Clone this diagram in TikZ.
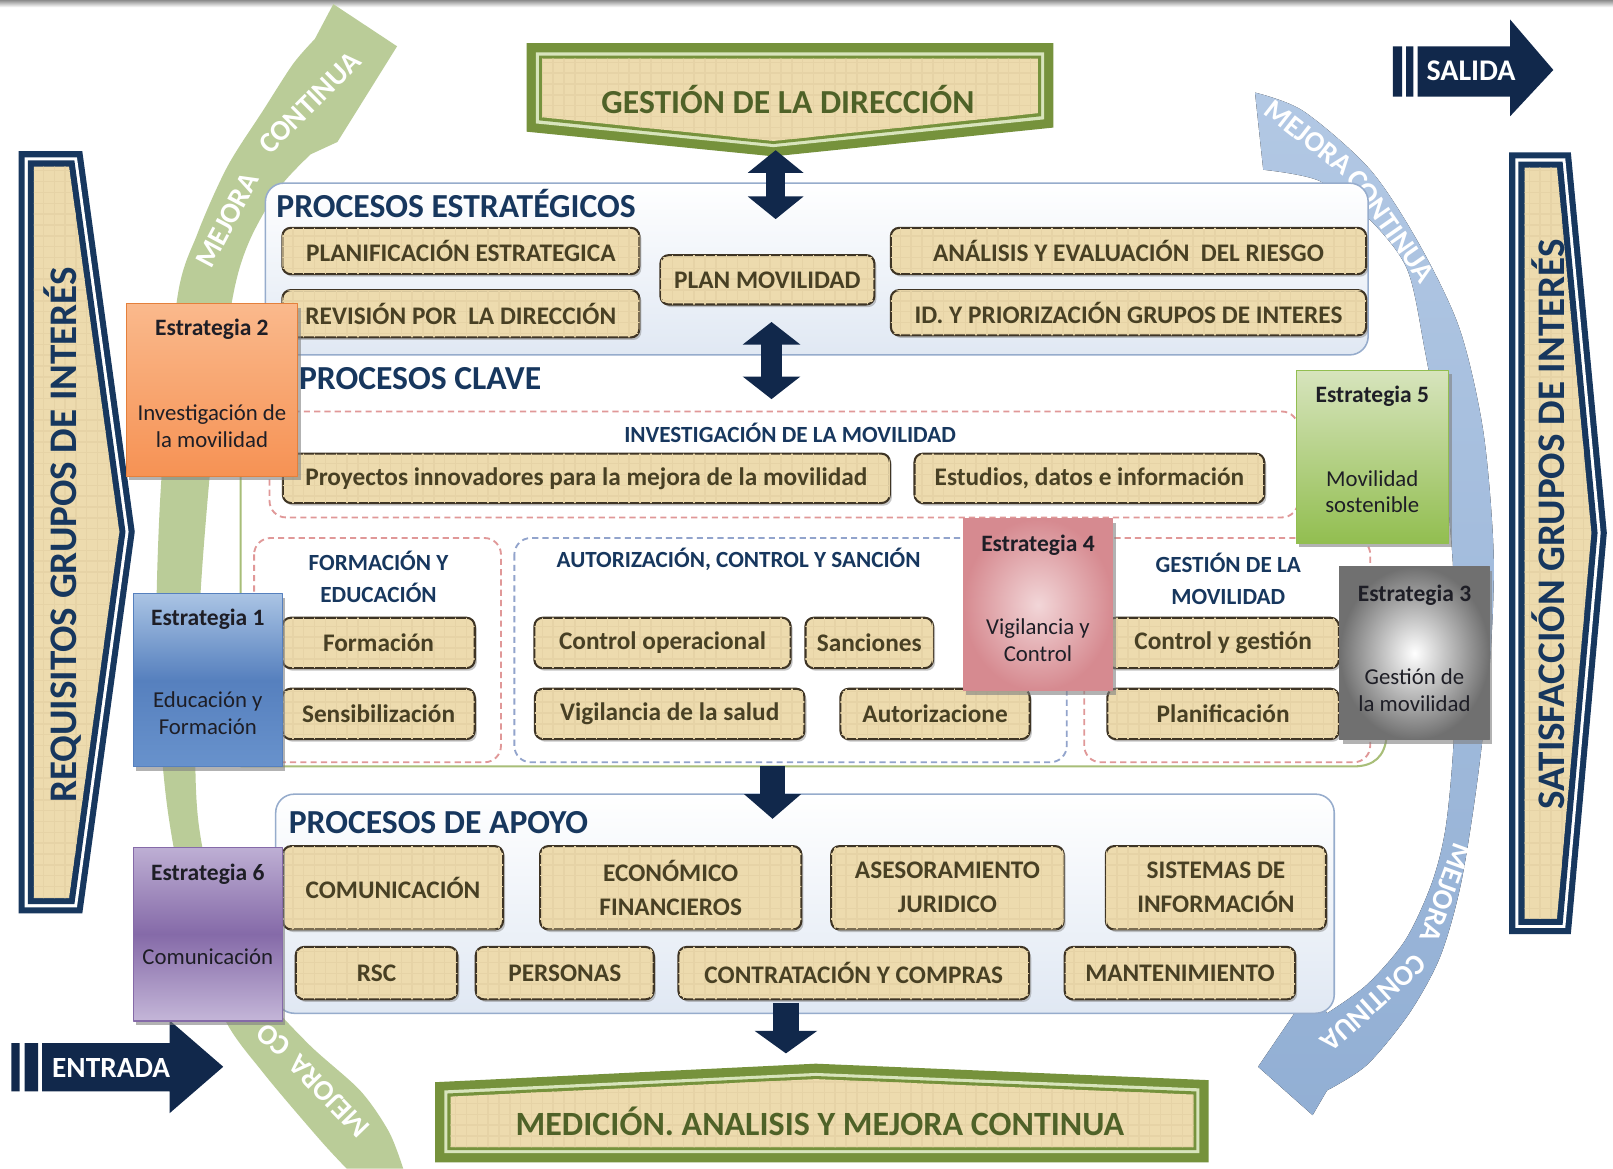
\documentclass[tikz,border=0pt]{standalone}
\usepackage{fontspec}
\setmainfont{Carlito}
\usepackage{tikz}
\usetikzlibrary{arrows.meta,positioning,shadows,patterns}
\usepackage{xcolor}

\definecolor{navyink}{RGB}{23,55,94}
\definecolor{navyarrow}{RGB}{17,40,75}
\definecolor{tanfill}{RGB}{237,219,174}
\definecolor{tangrid}{RGB}{230,211,166}
\definecolor{boxline}{RGB}{62,52,36}
\definecolor{boxink}{RGB}{72,64,36}
\definecolor{olivegreen}{RGB}{118,146,60}
\definecolor{olivelight}{RGB}{216,228,188}
\definecolor{oliveink}{RGB}{79,98,40}
\definecolor{mejoraverde}{RGB}{186,204,152}
\definecolor{mejoraazul}{RGB}{146,175,212}
\definecolor{mejoraazultop}{RGB}{178,200,228}
\definecolor{panelline}{RGB}{150,172,204}
\definecolor{panelfill}{RGB}{224,232,243}
\definecolor{keyline}{RGB}{168,190,120}
\definecolor{dashpink}{RGB}{224,152,152}
\definecolor{dashblue}{RGB}{146,164,204}
\definecolor{estink}{RGB}{30,30,38}
\definecolor{etwotop}{RGB}{250,185,140}
\definecolor{etwobot}{RGB}{246,146,84}
\definecolor{etwoline}{RGB}{228,128,60}
\definecolor{eonetop}{RGB}{170,196,228}
\definecolor{eonemid}{RGB}{86,128,190}
\definecolor{eonebot}{RGB}{104,146,204}
\definecolor{esixtop}{RGB}{190,175,212}
\definecolor{esixmid}{RGB}{133,106,168}
\definecolor{esixbot}{RGB}{196,182,216}
\definecolor{efivetop}{RGB}{215,228,189}
\definecolor{efivebot}{RGB}{146,190,80}
\definecolor{efourin}{RGB}{242,214,216}
\definecolor{efourout}{RGB}{214,138,144}
\definecolor{ethreeout}{RGB}{112,112,112}

\begin{document}
\begin{tikzpicture}[
        x = 0.1mm, y = -0.1mm, % one unit = one pixel of the sketch, y goes down
        line join = round
      ]

      \tikzset{
        proc/.style = {draw = boxline, line width = 0.2mm, rounded corners = 0.8mm,
          fill = tanfill, text = boxink, align = center, inner sep = 0pt,
          font = \fontsize{7}{9.4}\selectfont\bfseries,
          drop shadow = {shadow xshift = 0.2mm, shadow yshift = -0.25mm, opacity = 0.45},
          postaction = {pattern = grid, pattern color = tangrid}},
        estbox/.style = {line width = 0.1mm, inner sep = 0pt,
          drop shadow = {shadow xshift = 0.3mm, shadow yshift = -0.4mm, opacity = 0.6}},
        esttitle/.style = {inner sep = 0pt, text = estink,
          font = \fontsize{6.5}{7.5}\selectfont\bfseries},
        estsub/.style = {inner sep = 0pt, text = estink, align = center,
          font = \fontsize{6.3}{7.4}\selectfont},
        areatitle/.style = {anchor = west, inner sep = 0pt, text = navyink,
          font = \fontsize{9.3}{11}\selectfont\bfseries},
        regtitle/.style = {inner sep = 0pt, text = navyink, align = center,
          font = \fontsize{6.4}{8.8}\selectfont\bfseries},
        zone/.style = {rounded corners = 1.6mm, line width = 0.18mm,
          dash pattern = on 0.6mm off 0.4mm},
        panel/.style = {draw = panelline, line width = 0.15mm, rounded corners = 1.8mm,
          top color = white, bottom color = panelfill},
        blockarrow/.style = {draw = navyarrow, line width = #1},
        mejora/.style = {text = white, inner sep = 0pt,
          font = \fontsize{8}{9}\selectfont\bfseries},
        banner/.style = {text = navyink, rotate = 90, inner sep = 0pt,
          font = \fontsize{10.8}{12}\selectfont\bfseries},
        tanarea/.style = {fill = tanfill, postaction = {pattern = grid, pattern color = tangrid}}
      }

      \fill[white] (0,0) rectangle (1568,1136);
      \fill[top color = black!45, bottom color = white] (0,0) rectangle (1568,7);

      % mejora continua, left (green) and right (blue)
      \fill[mejoraverde] plot[smooth] coordinates {(337,1136) (311,1108) (256,1043) (218,990)
          (185,900) (162,780) (152,640) (156,480) (172,292) (192,227) (221,162) (256,107)
          (285,62) (306,38)}
        -- (324,4) -- (386,45) -- (328,138)
        -- plot[smooth] coordinates {(302,150) (272,182) (243,233) (227,285) (210,400)
          (196,560) (190,700) (193,800) (215,900) (250,960) (300,1015) (350,1060)
          (378,1100) (392,1136)} -- cycle;
      \node[mejora, rotate = 62] (mejora-a1) at (221,214) {MEJORA};
      \node[mejora, rotate = 45] (mejora-a2) at (301,100) {CONTINUA};
      \node[mejora, rotate = 134] (mejora-b1) at (320,1066) {MEJORA};
      \node[mejora, rotate = 140] (mejora-b2) at (266,1011) {CO};

      \fill[top color = mejoraazultop, bottom color = mejoraazul]
        plot[smooth] coordinates {(1220,90) (1267,108) (1332,165) (1380,238) (1419,320)
          (1442,420) (1452,540) (1448,650) (1436,760) (1420,860) (1400,930) (1370,985)
          (1329,1035) (1290,1060)}
        -- (1276,1084) -- (1223,1037) -- (1276,959)
        -- plot[smooth] coordinates {(1290,985) (1329,957) (1366,914) (1392,858) (1406,800)
          (1414,700) (1413,560) (1402,440) (1385,340) (1368,262) (1332,214) (1283,176)
          (1228,165)} -- cycle;
      \node[mejora, rotate = -38] (mejora-c1) at (1272,134) {MEJORA};
      \node[mejora, rotate = -55] (mejora-c2) at (1352,220) {CONTINUA};
      \node[mejora, rotate = 250] (mejora-d1) at (1405,868) {MEJORA};
      \node[mejora, rotate = 222] (mejora-d2) at (1335,975) {CONTINUA};

      % grupos de interes
      \fill[navyink] (18,147) -- (80,147) -- (131,517) -- (80,888) -- (18,888) -- cycle;
      \fill[white] (24,153) -- (74.8,153) -- (125,517) -- (74.8,882) -- (24,882) -- cycle;
      \fill[navyink] (27,156) -- (72.3,156) -- (122,517) -- (72.3,879) -- (27,879) -- cycle;
      \fill[tanarea] (33,162) -- (67.1,162) -- (116,517) -- (67.1,873) -- (33,873) -- cycle;
      \node[banner] (requisitos) at (61,520) {REQUISITOS GRUPOS DE INTERÉS};

      \fill[navyink] (1467,148) -- (1527,148) -- (1562,518) -- (1527,908) -- (1467,908) -- cycle;
      \fill[white] (1473,154) -- (1521.6,154) -- (1556,518) -- (1521.6,902) -- (1473,902) -- cycle;
      \fill[navyink] (1476,157) -- (1519,157) -- (1553,518) -- (1519,899) -- (1476,899) -- cycle;
      \fill[tanarea] (1482,163) -- (1513.5,163) -- (1547,518) -- (1513.5,893) -- (1482,893) -- cycle;
      \node[banner] (satisfaccion) at (1505,510) {SATISFACCIÓN GRUPOS DE INTERÉS};

      % entrada / salida
      \fill[navyarrow] (11,1014) rectangle (19,1061) (24,1014) rectangle (37,1061);
      \fill[navyarrow] (41,1014) -- (165,1014) -- (165,992) -- (217,1037) -- (165,1082)
        -- (165,1061) -- (41,1061) -- cycle;
      \node[text = white, font = \fontsize{8.1}{9}\selectfont\bfseries] (entrada) at (108,1038) {ENTRADA};

      \fill[navyarrow] (1354,45) rectangle (1363,94) (1367,45) rectangle (1374,94);
      \fill[navyarrow] (1378,45) -- (1468,45) -- (1468,19) -- (1510,68) -- (1468,113)
        -- (1468,94) -- (1378,94) -- cycle;
      \node[text = white, font = \fontsize{8.3}{9}\selectfont\bfseries] (salida) at (1430,69) {SALIDA};

      % gestion de la direccion
      \fill[olivegreen] (512,42) -- (1024,42) -- (1024,124) -- (752,152) -- (512,128) -- cycle;
      \fill[olivelight] (521,51) -- (1015,51) -- (1015,116) -- (752,143) -- (521,120) -- cycle;
      \fill[olivegreen] (524,54) -- (1012,54) -- (1012,113) -- (752,140) -- (524,117) -- cycle;
      \fill[tanarea] (527,57) -- (1009,57) -- (1009,110) -- (752,137) -- (527,114) -- cycle;
      \node[text = oliveink, font = \fontsize{9.3}{11}\selectfont\bfseries] (gestion) at (766,97) {GESTIÓN DE LA DIRECCIÓN};
      \coordinate (gestion-tip) at (754,146);

      % medicion
      \fill[olivegreen] (423,1052) -- (793,1034) -- (1175,1050) -- (1175,1130) -- (423,1130) -- cycle;
      \fill[olivelight] (432,1060) -- (793,1043) -- (1166,1058) -- (1166,1121) -- (432,1121) -- cycle;
      \fill[olivegreen] (435,1063) -- (793,1046) -- (1163,1061) -- (1163,1118) -- (435,1118) -- cycle;
      \fill[tanarea] (438,1066) -- (793,1049) -- (1160,1064) -- (1160,1115) -- (438,1115) -- cycle;
      \node[text = oliveink, font = \fontsize{9.4}{11}\selectfont\bfseries] (medicion) at (797,1090) {MEDICIÓN. ANALISIS Y MEJORA CONTINUA};
      \coordinate (medicion-tip) at (764,1024);

      % procesos estrategicos
      \draw[panel] (258,178) rectangle (1330,345);
      \node[areatitle] (estrategicos) at (268,198) {PROCESOS ESTRATÉGICOS};
      \coordinate (estr-top) at (754,213);
      \coordinate (estr-bot) at (750,313);

      \node[proc, minimum width = 34.7mm, minimum height = 4.5mm] (planif) at (448,244) {PLANIFICACIÓN ESTRATEGICA};
      \node[proc, minimum width = 34.7mm, minimum height = 4.6mm] (revision) at (448,305) {REVISIÓN POR~ LA DIRECCIÓN};
      \node[proc, minimum width = 20.8mm, minimum height = 4.8mm] (planmov) at (746,272) {PLAN MOVILIDAD};
      \node[proc, minimum width = 46.2mm, minimum height = 4.5mm] (riesgo) at (1097,244) {ANÁLISIS Y EVALUACIÓN~ DEL RIESGO};
      \node[proc, minimum width = 46.2mm, minimum height = 4.4mm] (grupos) at (1097,304) {ID. Y PRIORIZACIÓN GRUPOS DE INTERES};

      % procesos clave
      \draw[keyline, line width = 0.2mm] (234,347) -- (234,745) -- (1316,745)
        .. controls (1336,745) and (1346,735) .. (1348,716);
      \node[areatitle] (clave) at (290,368) {PROCESOS CLAVE};
      \coordinate (clave-top) at (750,388);
      \coordinate (clave-bot) at (751,745);

      \draw[zone, dashpink] (262,400) rectangle (1262,503);
      \draw[zone, dashpink] (247,523) rectangle (487,741);
      \draw[zone, dashblue] (500,523) rectangle (1037,741);
      \draw[zone, dashpink] (1054,523) rectangle (1332,741);

      \node[regtitle] (investigacion) at (768,421) {INVESTIGACIÓN DE LA MOVILIDAD};
      \node[regtitle] (formeduc) at (368,561) {FORMACIÓN Y\\EDUCACIÓN};
      \node[regtitle] (autorizacion) at (718,544) {AUTORIZACIÓN, CONTROL Y SANCIÓN};
      \node[regtitle] (gestmov) at (1194,563) {GESTIÓN DE LA\\MOVILIDAD};

      \node[proc, minimum width = 59mm, minimum height = 4.8mm] (proyectos) at (570,465) {Proyectos innovadores para la mejora de la movilidad};
      \node[proc, minimum width = 34mm, minimum height = 4.8mm] (estudios) at (1059,465) {Estudios, datos e información};
      \node[proc, minimum width = 18.7mm, minimum height = 4.9mm] (formacion) at (368,625) {Formación};
      \node[proc, minimum width = 18.7mm, minimum height = 4.9mm] (sensib) at (368,694) {Sensibilización};
      \node[proc, minimum width = 24.9mm, minimum height = 4.9mm] (controlop) at (644,625) {Control operacional};
      \node[proc, minimum width = 12.4mm, minimum height = 4.9mm] (sanciones) at (845,625) {Sanciones};
      \node[proc, minimum width = 26.2mm, minimum height = 4.9mm] (vigsalud) at (651,694) {Vigilancia de la salud};
      \node[proc, minimum width = 18.4mm, minimum height = 4.9mm] (autoriz) at (909,694) {Autorizacione};
      \node[proc, minimum width = 22.5mm, minimum height = 4.9mm] (controlg) at (1189,625) {Control y gestión};
      \node[proc, minimum width = 22.5mm, minimum height = 4.9mm] (planific) at (1189,694) {Planificación};

      % procesos de apoyo
      \draw[panel] (268,772) rectangle (1297,985);
      \node[areatitle] (apoyo) at (280,800) {PROCESOS DE APOYO};
      \coordinate (apoyo-top) at (751,796);
      \coordinate (apoyo-bot) at (764,975);

      \node[proc, minimum width = 21.4mm, minimum height = 8.1mm] (comunic) at (382,863) {COMUNICACIÓN};
      \node[proc, minimum width = 25.4mm, minimum height = 8.1mm] (econ) at (652,863) {ECONÓMICO\\FINANCIEROS};
      \node[proc, minimum width = 22.6mm, minimum height = 8.1mm] (asesor) at (921,863) {ASESORAMIENTO\\JURIDICO};
      \node[proc, minimum width = 21.4mm, minimum height = 8.1mm] (sistemas) at (1182,863) {SISTEMAS DE\\INFORMACIÓN};
      \node[proc, minimum width = 15.7mm, minimum height = 5.1mm] (rsc) at (366,946) {RSC};
      \node[proc, minimum width = 17.3mm, minimum height = 5.1mm] (personas) at (549,946) {PERSONAS};
      \node[proc, minimum width = 34.1mm, minimum height = 5.1mm] (contrat) at (830,946) {CONTRATACIÓN Y COMPRAS};
      \node[proc, minimum width = 22.4mm, minimum height = 5.1mm] (manten) at (1147,946) {MANTENIMIENTO};

      % flechas
      \draw[blockarrow = 1.8mm, {Triangle[width = 5.3mm, length = 2.2mm]}-{Triangle[width = 5.3mm, length = 2.2mm]}]
        (gestion-tip) -- (estr-top);
      \draw[blockarrow = 2mm, {Triangle[width = 5.5mm, length = 2.2mm]}-{Triangle[width = 5.5mm, length = 2.2mm]}]
        (estr-bot) -- (clave-top);
      \draw[blockarrow = 2.4mm, -{Triangle[width = 5.4mm, length = 2.4mm]}] (clave-bot) -- (apoyo-top);
      \draw[blockarrow = 2.6mm, -{Triangle[width = 6mm, length = 2.2mm]}] (apoyo-bot) -- (medicion-tip);

      % estrategias
      \node[estbox, draw = etwoline, top color = etwotop, bottom color = etwobot,
        minimum width = 16.7mm, minimum height = 16.8mm] (est2) at (206,379) {};
      \node[esttitle, below = 1.5mm of est2.north] (est2-t) {Estrategia 2};
      \node[estsub] (est2-s) at ([yshift = -3.5mm]est2.center) {Investigación de\\la movilidad};

      \node[estbox, draw = eonemid, top color = eonetop, bottom color = eonebot, middle color = eonemid,
        minimum width = 14.5mm, minimum height = 16.8mm] (est1) at (202,661) {};
      \node[esttitle, below = 1.5mm of est1.north] (est1-t) {Estrategia 1};
      \node[estsub] (est1-s) at ([yshift = -3.2mm]est1.center) {Educación y\\Formación};

      \node[estbox, draw = esixmid, top color = esixtop, bottom color = esixbot, middle color = esixmid,
        minimum width = 14.5mm, minimum height = 16.9mm] (est6) at (202,908) {};
      \node[esttitle, below = 1.6mm of est6.north] (est6-t) {Estrategia 6};
      \node[estsub] (est6-s) at ([yshift = -2.2mm]est6.center) {Comunicación};

      \node[estbox, draw = efivebot, top color = efivetop, bottom color = efivebot,
        minimum width = 14.8mm, minimum height = 16.8mm] (est5) at (1334,444) {};
      \node[esttitle, below = 1.5mm of est5.north] (est5-t) {Estrategia 5};
      \node[estsub] (est5-s) at ([yshift = -3.4mm]est5.center) {Movilidad\\sostenible};

      \node[estbox, draw = efourout, inner color = efourin, outer color = efourout,
        minimum width = 14.5mm, minimum height = 16.7mm] (est4) at (1009,588) {};
      \node[esttitle, below = 1.5mm of est4.north] (est4-t) {Estrategia 4};
      \node[estsub] (est4-s) at ([yshift = -3.4mm]est4.center) {Vigilancia y\\Control};

      \node[estbox, draw = ethreeout, inner color = white, outer color = ethreeout,
        minimum width = 14.5mm, minimum height = 16.8mm] (est3) at (1375,635) {};
      \node[esttitle, below = 1.7mm of est3.north] (est3-t) {Estrategia 3};
      \node[estsub] (est3-s) at ([yshift = -3.6mm]est3.center) {Gestión de\\la movilidad};

  \end{tikzpicture}
\end{document}
